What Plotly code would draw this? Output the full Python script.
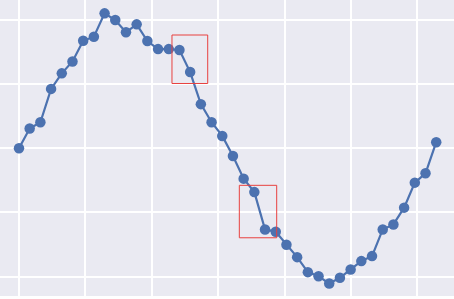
import numpy as np
import plotly.graph_objects as go

x_values = np.linspace(0, 2 * np.pi, 40)
y_values = [0.000, 0.154, 0.203, 0.463, 0.584, 0.677, 0.838, 0.870, 1.052, 1.000,
            0.904, 0.966, 0.836, 0.773, 0.773, 0.766, 0.594, 0.344, 0.203, 0.096,
            -0.060, -0.237, -0.342, -0.633, -0.651, -0.752, -0.849, -0.966, -0.998, -1.055,
            -1.010, -0.945, -0.880, -0.841, -0.633, -0.594, -0.463, -0.268, -0.195, 0.047]

fig = go.Figure()
fig.add_trace(go.Scatter(
    x=x_values, y=y_values, mode="lines+markers",
    line=dict(color="#4C72B0", width=2.2),
    marker=dict(color="#4C72B0", size=10.5),
    showlegend=False,
))

rects = [(2.304, 0.505, 2.842, 0.883), (3.318, -0.698, 3.881, -0.289)]
for x0, y0, x1, y1 in rects:
    fig.add_shape(type="rect", x0=x0, x1=x1, y0=y0, y1=y1,
                  line=dict(color="#E8413F", width=1), fillcolor="rgba(0,0,0,0)")

fig.update_layout(
    width=454, height=299,
    margin=dict(l=0, r=0, t=0, b=3),
    paper_bgcolor="white", plot_bgcolor="#EAEAF2",
    xaxis=dict(range=[-0.286, 6.551], tick0=0, dtick=1, showticklabels=False,
               gridcolor="white", gridwidth=1.5, zeroline=False, showline=False, ticks=""),
    yaxis=dict(range=[-1.152, 1.156], tick0=0, dtick=0.5, showticklabels=False,
               gridcolor="white", gridwidth=1.5, zeroline=False, showline=False, ticks=""),
)

fig.write_html("out.html")
